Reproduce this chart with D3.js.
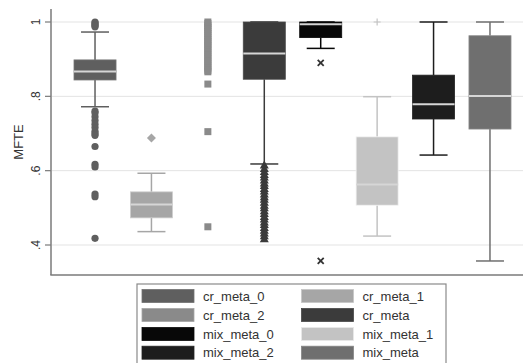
<!DOCTYPE html>
<html>
<head>
<meta charset="utf-8">
<script src="https://cdn.jsdelivr.net/npm/d3@7"></script>
<style>
  body { margin: 0; background: #fff; }
  svg { display: block; font-family: "Liberation Sans", Arial, sans-serif; }
</style>
</head>
<body>
<div id="chart"></div>
<script>
// groups and box stats
const groups = ["cr_meta_0", "cr_meta_1", "cr_meta_2", "cr_meta", "mix_meta_0", "mix_meta_1", "mix_meta_2", "mix_meta"];
const colors = ["#5f5f5f", "#a6a6a6", "#8a8a8a", "#3b3b3b", "#080808", "#c3c3c3", "#1d1d1d", "#6f6f6f"];
const q1 = [0.844, 0.473, 1.0, 0.846, 0.958, 0.507, 0.739, 0.712];
const med = [0.867, 0.509, 1.0, 0.915, 0.994, 0.563, 0.779, 0.801];
const q3 = [0.898, 0.543, 1.0, 1.0, 1.0, 0.691, 0.857, 0.963];
const whiskLo = [0.772, 0.436, 1.0, 0.618, 0.929, 0.424, 0.642, 0.357];
const whiskHi = [0.973, 0.593, 1.0, 1.0, 1.0, 0.799, 1.0, 1.0];
const markers = ["circle", "diamond", "square", "triangle", "x", "plus", "none", "none"];
const outliers = [
  [1.0, 0.997, 0.993, 0.99, 0.987, 0.76, 0.755, 0.745, 0.735, 0.725, 0.716, 0.706, 0.7, 0.695, 0.665, 0.617, 0.61, 0.537, 0.53, 0.418],
  [0.688],
  [1.0, 0.996, 0.991, 0.985, 0.98, 0.975, 0.969, 0.963, 0.958, 0.952, 0.947, 0.941, 0.936, 0.93, 0.924, 0.918, 0.912, 0.906, 0.9, 0.894, 0.888, 0.882, 0.876, 0.87, 0.866, 0.833, 0.705, 0.449],
  [0.615, 0.606, 0.598, 0.59, 0.583, 0.575, 0.567, 0.56, 0.552, 0.545, 0.537, 0.53, 0.523, 0.515, 0.507, 0.5, 0.492, 0.485, 0.477, 0.47, 0.462, 0.455, 0.447, 0.44, 0.432, 0.425, 0.417],
  [0.89, 0.357],
  [1.0],
  [],
  []
];
const yTicks = [0.4, 0.6, 0.8, 1.0];
const yTickLabels = [".4", ".6", ".8", "1"];

const width = 523, height = 363;
const svg = d3.select("#chart").append("svg")
  .attr("width", width)
  .attr("height", height);

svg.append("rect").attr("width", width).attr("height", height).attr("fill", "#fff");

const x = d3.scaleBand()
  .domain(groups)
  .range([52, 533])
  .paddingInner(0.255)
  .paddingOuter(0.39);

const y = d3.scaleLinear()
  .domain([0.4, 1])
  .range([245, 22]);

const plotTop = 9, plotBottom = 275;

// gridlines
svg.append("g")
  .selectAll("line")
  .data(yTicks)
  .join("line")
  .attr("x1", 52).attr("x2", width)
  .attr("y1", d => y(d)).attr("y2", d => y(d))
  .attr("stroke", "#e3e3e3")
  .attr("stroke-width", 1);

// left axis
const axis = svg.append("g");
axis.append("line")
  .attr("x1", 51).attr("x2", 51)
  .attr("y1", plotTop).attr("y2", plotBottom)
  .attr("stroke", "#7a7a7a").attr("stroke-width", 1.5);
axis.append("line")
  .attr("x1", 50.3).attr("x2", width)
  .attr("y1", plotBottom).attr("y2", plotBottom)
  .attr("stroke", "#7a7a7a").attr("stroke-width", 1.5);
axis.selectAll(".tick")
  .data(yTicks)
  .join("line")
  .attr("x1", 45).attr("x2", 51)
  .attr("y1", d => y(d)).attr("y2", d => y(d))
  .attr("stroke", "#7a7a7a").attr("stroke-width", 1.2);
axis.selectAll("text")
  .data(yTicks)
  .join("text")
  .attr("transform", d => `translate(36,${y(d)}) rotate(-90)`)
  .attr("text-anchor", "middle")
  .attr("dy", "0.35em")
  .attr("font-size", 12)
  .attr("fill", "#333")
  .text((d, i) => yTickLabels[i]);

svg.append("text")
  .attr("transform", `translate(18,${(plotTop + plotBottom) / 2}) rotate(-90)`)
  .attr("text-anchor", "middle")
  .attr("dy", "0.35em")
  .attr("font-size", 13)
  .attr("fill", "#333")
  .text("MFTE");

// boxes
const bw = x.bandwidth();
const capW = 28;
groups.forEach((g, i) => {
  const cx = x(g) + bw / 2;
  const c = colors[i];
  const gEl = svg.append("g");
  if (q3[i] > q1[i]) {
    // whiskers
    gEl.append("line")
      .attr("x1", cx).attr("x2", cx)
      .attr("y1", y(q3[i])).attr("y2", y(whiskHi[i]))
      .attr("stroke", c).attr("stroke-width", 1.5);
    gEl.append("line")
      .attr("x1", cx).attr("x2", cx)
      .attr("y1", y(q1[i])).attr("y2", y(whiskLo[i]))
      .attr("stroke", c).attr("stroke-width", 1.5);
    [whiskHi[i], whiskLo[i]].forEach(v => {
      gEl.append("line")
        .attr("x1", cx - capW / 2).attr("x2", cx + capW / 2)
        .attr("y1", y(v)).attr("y2", y(v))
        .attr("stroke", c).attr("stroke-width", 1.5);
    });
    gEl.append("rect")
      .attr("x", x(g)).attr("width", bw)
      .attr("y", y(q3[i])).attr("height", y(q1[i]) - y(q3[i]))
      .attr("fill", c)
      .attr("stroke", d3.color(c).brighter(0.6))
      .attr("stroke-width", 0.8);
    gEl.append("line")
      .attr("x1", x(g)).attr("x2", x(g) + bw)
      .attr("y1", y(med[i])).attr("y2", y(med[i]))
      .attr("stroke", "#d6d6d6").attr("stroke-width", 2);
  }

  // outside values
  const m = markers[i];
  const pts = gEl.selectAll(".o").data(outliers[i]).join("g")
    .attr("transform", d => `translate(${cx},${y(d)})`);
  if (m === "circle") {
    pts.append("circle").attr("r", 3.6).attr("fill", c);
  } else if (m === "square") {
    pts.append("rect").attr("x", -3.5).attr("y", -3.5).attr("width", 7).attr("height", 7).attr("fill", c);
  } else if (m === "diamond") {
    pts.append("path").attr("d", "M0,-4.5L4.5,0L0,4.5L-4.5,0Z").attr("fill", c);
  } else if (m === "triangle") {
    pts.append("path").attr("d", "M0,-4.5L4.5,3.5L-4.5,3.5Z").attr("fill", c);
  } else if (m === "x") {
    pts.append("path").attr("d", "M-3,-3L3,3M-3,3L3,-3")
      .attr("stroke", "#333").attr("stroke-width", 1.8);
  } else if (m === "plus") {
    pts.append("path").attr("d", "M-3.5,0L3.5,0M0,-3.5L0,3.5")
      .attr("stroke", c).attr("stroke-width", 1.2);
  }
});

// legend
const legX = 137, legY = 284;
svg.append("rect")
  .attr("x", legX).attr("y", legY)
  .attr("width", 309).attr("height", 90)
  .attr("fill", "#fff")
  .attr("stroke", "#8a8a8a").attr("stroke-width", 1.2);

const rowY = [296, 315, 334, 352.7];
const colX = [142, 301.5];
const leg = svg.append("g").selectAll("g")
  .data(groups)
  .join("g")
  .attr("transform", (d, i) => `translate(${colX[i % 2]},${rowY[Math.floor(i / 2)]})`);
leg.append("rect")
  .attr("x", 0).attr("y", -6.5)
  .attr("width", 52).attr("height", 13)
  .attr("fill", (d, i) => colors[i])
  .attr("stroke", (d, i) => d3.color(colors[i]).brighter(0.5))
  .attr("stroke-width", 0.8);
leg.append("text")
  .attr("x", 61)
  .attr("dy", "0.36em")
  .attr("font-size", 13)
  .attr("fill", "#333")
  .text(d => d);
</script>
</body>
</html>
